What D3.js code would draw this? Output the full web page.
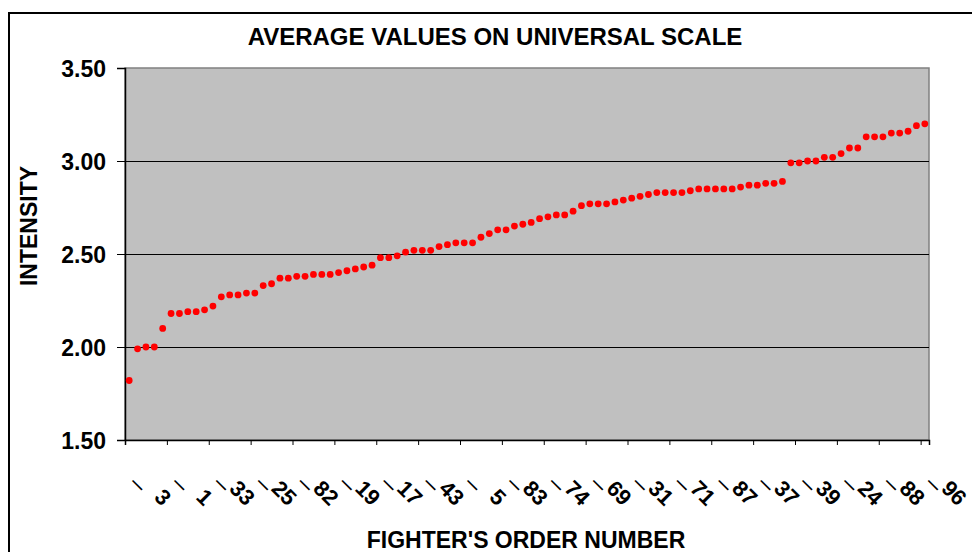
<html>
<script src='https://d3js.org/d3.v7.min.js'></script>
<style>
  body { margin: 0; background: #fff; }
  text { font-family: "Liberation Sans", Arial, sans-serif; fill: #000; }
</style>
<body onload='init()'>
<svg width=972 height=552></svg>
<script>
// average intensity per fighter, sorted ascending
var values = [
  1.82, 1.99, 2.00, 2.00, 2.10, 2.18, 2.18, 2.19, 2.19, 2.20,
  2.22, 2.27, 2.28, 2.28, 2.29, 2.29, 2.33, 2.34, 2.37, 2.37,
  2.38, 2.38, 2.39, 2.39, 2.39, 2.40, 2.41, 2.42, 2.43, 2.44,
  2.48, 2.48, 2.49, 2.51, 2.52, 2.52, 2.52, 2.54, 2.55, 2.56,
  2.56, 2.56, 2.59, 2.61, 2.63, 2.63, 2.65, 2.66, 2.67, 2.69,
  2.70, 2.71, 2.71, 2.73, 2.76, 2.77, 2.77, 2.77, 2.78, 2.79,
  2.80, 2.81, 2.82, 2.83, 2.83, 2.83, 2.83, 2.84, 2.85, 2.85,
  2.85, 2.85, 2.85, 2.86, 2.87, 2.87, 2.88, 2.88, 2.89, 2.99,
  2.99, 3.00, 3.00, 3.02, 3.02, 3.04, 3.07, 3.07, 3.13, 3.13,
  3.13, 3.15, 3.15, 3.16, 3.19, 3.20
];
var tickLabels = ["3","1","33","25","82","19","17","43","5","83",
                  "74","69","31","71","87","37","39","24","88","96"];
var yTicks = [1.5, 2.0, 2.5, 3.0, 3.5];
var labelStep = 5;

function init() {
  var svg = d3.select('svg');
  var left = 125, right = 929, top = 68, bottom = 440;

  var x = d3.scaleBand().domain(d3.range(values.length)).range([left, right]);
  var xEdge = d3.scaleLinear().domain([0, values.length]).range([left, right]);
  var y = d3.scaleLinear().domain([1.5, 3.5]).range([bottom, top]);

  // outer chart border (runs off the page on right / bottom)
  svg.append('rect')
    .attr('x', 9).attr('y', 13).attr('width', 1000).attr('height', 600)
    .attr('fill', 'none').attr('stroke', '#000').attr('stroke-width', 2);

  // plot area
  svg.append('rect')
    .attr('x', left).attr('y', top).attr('width', right - left).attr('height', bottom - top)
    .attr('fill', '#c0c0c0').attr('stroke', '#808080').attr('stroke-width', 1.5);

  // gridlines
  svg.append('g')
    .attr('transform', 'translate(' + left + ',0)')
    .call(d3.axisLeft(y).tickValues([2.0, 2.5, 3.0]).tickSize(-(right - left)).tickFormat(''))
    .call(g => g.select('.domain').remove())
    .selectAll('line').attr('stroke', '#000').attr('stroke-width', 1);

  // y axis
  var ya = svg.append('g')
    .attr('transform', 'translate(' + left + ',0)')
    .call(d3.axisLeft(y).tickValues(yTicks).tickFormat(d3.format('.2f')).tickSize(8).tickPadding(11));
  ya.select('.domain').attr('stroke', '#000').attr('stroke-width', 1.5);
  ya.selectAll('text').style('font-size', '23px').style('font-weight', 'bold')
    .attr('dy', '0.36em');

  // x axis
  var xa = svg.append('g')
    .attr('transform', 'translate(0,' + bottom + ')')
    .call(d3.axisBottom(xEdge).tickValues(d3.range(0, values.length, labelStep)).tickSize(5).tickFormat(''));
  xa.select('.domain').attr('stroke', '#000').attr('stroke-width', 1.5);

  // category labels, one per 5 fighters, with a thin dash in front
  var lab = svg.append('g');
  tickLabels.forEach(function(t, i) {
    var c0 = i * labelStep;
    lab.append('text')
      .attr('transform', 'translate(' + xEdge(c0 + 1.5) + ',485) rotate(45)')
      .attr('text-anchor', 'middle').attr('dy', '0.27em')
      .style('font-size', '24px')
      .text('\u2013');
    lab.append('text')
      .attr('transform', 'translate(' + xEdge(c0 + 4.4) + ',507) rotate(45)')
      .attr('text-anchor', 'end')
      .style('font-size', '22px').style('font-weight', 'bold')
      .text(t);
  });

  // points
  svg.append('g').selectAll('circle')
    .data(values)
    .enter().append('circle')
    .attr('cx', (d, i) => x(i) + x.bandwidth() / 2)
    .attr('cy', d => y(d))
    .attr('r', 3.4)
    .attr('fill', '#ff0000');

  // titles
  svg.append('text')
    .attr('x', 495).attr('y', 45).attr('text-anchor', 'middle')
    .style('font-size', '24px').style('font-weight', 'bold')
    .text('AVERAGE VALUES ON UNIVERSAL SCALE');

  svg.append('text')
    .attr('x', 526).attr('y', 548).attr('text-anchor', 'middle')
    .style('font-size', '23px').style('font-weight', 'bold')
    .text("FIGHTER'S ORDER NUMBER");

  svg.append('text')
    .attr('transform', 'translate(37,226) rotate(-90)')
    .attr('text-anchor', 'middle')
    .style('font-size', '23px').style('font-weight', 'bold')
    .text('INTENSITY');
}
</script>
</body>
</html>
